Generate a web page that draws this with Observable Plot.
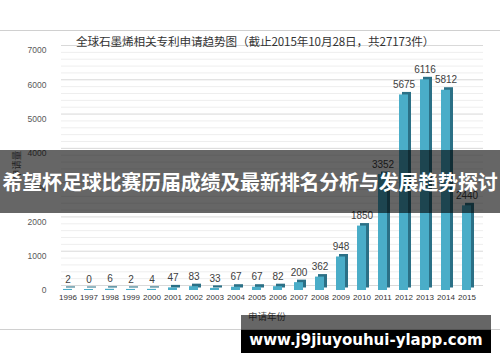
<!DOCTYPE html>
<html><head><meta charset="utf-8">
<script src="https://cdn.jsdelivr.net/npm/d3@7"></script>
<script src="https://cdn.jsdelivr.net/npm/@observablehq/plot@0.6"></script>
<style>
html,body{margin:0;padding:0;background:#fff;}
#wrap{position:relative;width:500px;height:362px;overflow:hidden;font-family:"Noto Sans CJK SC","Noto Sans",sans-serif;}
#frame{position:absolute;left:-2px;top:30px;width:503px;height:298px;border:1px solid #d0d0d0;}
#title{position:absolute;left:76px;top:33px;font-size:11.6px;color:#333;white-space:nowrap;letter-spacing:-0.1px;}
#ytitle{position:absolute;left:2px;top:158px;font-size:9.5px;color:#555;transform:rotate(-90deg);transform-origin:center;white-space:nowrap;}
#xtitle{position:absolute;left:248px;top:309px;font-size:9.5px;color:#555;}
#banner{position:absolute;left:0;top:150px;width:500px;height:63px;background:rgba(0,0,0,0.6);color:#fff;font-weight:bold;font-size:20px;line-height:63px;text-align:center;white-space:nowrap;letter-spacing:-0.2px;}
#wmg{position:absolute;left:241px;top:315px;width:250px;height:15px;background:rgba(0,0,0,0.6);}
#wm{position:absolute;left:241px;top:330px;width:250px;height:23px;background:#000;color:#fff;font-family:"DejaVu Sans",sans-serif;font-weight:bold;font-size:15px;line-height:21px;text-align:center;white-space:nowrap;}
#chart{position:absolute;left:0;top:0;}
</style></head>
<body>
<div id="wrap">
  <div id="frame"></div>
  <div id="chart"></div>
  <div id="title">全球石墨烯相关专利申请趋势图（截止2015年10月28日，共27173件）</div>
  <div id="ytitle">申请量</div>
  <div id="xtitle">申请年份</div>
  <div id="banner">希望杯足球比赛历届成绩及最新排名分析与发展趋势探讨</div>
  <div id="wmg"></div>
  <div id="wm">www.j9jiuyouhui-ylapp.com</div>
</div>
<script>
const years = ["1996","1997","1998","1999","2000","2001","2002","2003","2004","2005","2006","2007","2008","2009","2010","2011","2012","2013","2014","2015"];
const counts = [2,0,6,2,4,47,83,33,67,67,82,200,362,948,1850,3352,5675,6116,5812,2440];
const yTicks = [0,1000,2000,3000,4000,5000,6000,7000];
const minorTicks = d3.range(0, 7001, 200).filter(v => v % 1000 !== 0);

const data = years.map((y, i) => ({year: y, count: counts[i]}));

const chart = Plot.plot({
  width: 500,
  height: 362,
  marginTop: 50,
  marginBottom: 72,
  marginLeft: 55,
  marginRight: 22,
  style: {background: "transparent", fontFamily: "Liberation Sans, Arial, sans-serif"},
  x: {type: "band", domain: years, paddingInner: 0.58, paddingOuter: 0.29, label: null},
  y: {domain: [0, 7000], label: null},
  marks: [
    Plot.ruleY(minorTicks, {stroke: "#eeeeee", strokeWidth: 1, dy: -5, insetLeft: 6, insetRight: -5}),
    Plot.ruleY(yTicks, {stroke: "#d9d9d9", strokeWidth: 1, dy: -5, insetLeft: 6, insetRight: -5}),
    Plot.axisY({ticks: yTicks, tickSize: 0, tickPadding: 9, fontSize: 8.5, color: "#595959", tickFormat: d => String(d)}),
    Plot.axisX({tickSize: 0, tickPadding: 4, fontSize: 8, color: "#333"}),
    Plot.barY(data, {x: "year", y: "count", fill: "#2b7086", dx: 3, dy: -2.5, insetTop: -1}),
    Plot.barY(data, {x: "year", y: "count", fill: "#4aadc8", insetTop: -1}),
    Plot.text(data, {x: "year", y: "count", text: d => String(d.count), dy: -11, fontSize: 10, fill: "#404040"})
  ]
});
document.getElementById("chart").appendChild(chart);
</script>
</body></html>
